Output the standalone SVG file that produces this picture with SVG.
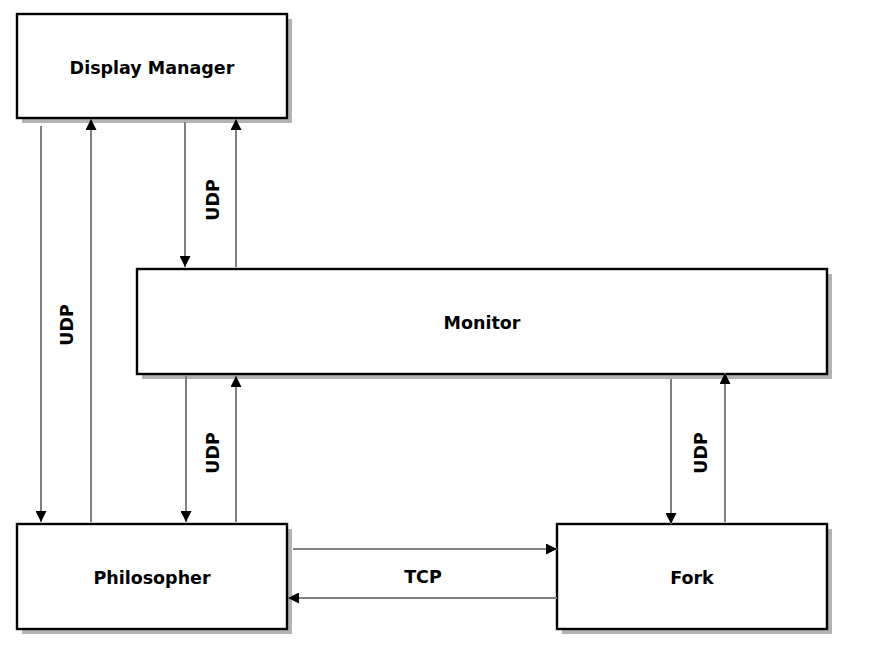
<svg xmlns="http://www.w3.org/2000/svg" width="871" height="658" viewBox="0 0 871 658">
<style>
.box{fill:#fff;stroke:#000;stroke-width:2.4}
.sh{fill:#b3b3b3}
.t{font-family:"DejaVu Sans",Verdana,sans-serif;font-weight:bold;font-size:17.5px;fill:#000;text-anchor:middle;dominant-baseline:central}
.e{stroke:#808080;stroke-width:2;fill:none}
</style>
<defs>
<marker id="ah" viewBox="0 0 11 11" refX="11" refY="5.5" markerWidth="11" markerHeight="11" markerUnits="userSpaceOnUse" orient="auto">
<path d="M0,0 L11,5.5 L0,11 Z" fill="#000"/>
</marker>
</defs>
<rect width="871" height="658" fill="#fff"/>
<g id="display-manager">
<rect class="sh" x="22" y="19" width="270" height="104"/>
<rect class="box" x="17" y="14" width="270" height="104"/>
<text class="t" x="152" y="68">Display Manager</text>
</g>
<g id="monitor">
<rect class="sh" x="142" y="274" width="690" height="105"/>
<rect class="box" x="137" y="269" width="690" height="105"/>
<text class="t" x="482" y="323">Monitor</text>
</g>
<g id="philosopher">
<rect class="sh" x="22" y="529" width="270" height="105"/>
<rect class="box" x="17" y="524" width="270" height="105"/>
<text class="t" x="152" y="578">Philosopher</text>
</g>
<g id="fork">
<rect class="sh" x="562" y="529" width="270" height="105"/>
<rect class="box" x="557" y="524" width="270" height="105"/>
<text class="t" x="692" y="578">Fork</text>
</g>
<g id="connectors">
<line class="e" x1="41" y1="126" x2="41" y2="522" marker-end="url(#ah)"/>
<line class="e" x1="91" y1="522" x2="91" y2="119" marker-end="url(#ah)"/>
<line class="e" x1="185" y1="122" x2="185" y2="267" marker-end="url(#ah)"/>
<line class="e" x1="236" y1="267" x2="236" y2="119" marker-end="url(#ah)"/>
<line class="e" x1="186" y1="376" x2="186" y2="522" marker-end="url(#ah)"/>
<line class="e" x1="236" y1="522" x2="236" y2="376" marker-end="url(#ah)"/>
<line class="e" x1="671" y1="379" x2="671" y2="524" marker-end="url(#ah)"/>
<line class="e" x1="725" y1="522" x2="725" y2="373" marker-end="url(#ah)"/>
<line class="e" x1="293" y1="549" x2="557" y2="549" marker-end="url(#ah)"/>
<line class="e" x1="557" y1="598" x2="288" y2="598" marker-end="url(#ah)"/>
<text class="t" transform="translate(67,325) rotate(-90)">UDP</text>
<text class="t" transform="translate(213,200) rotate(-90)">UDP</text>
<text class="t" transform="translate(213,453) rotate(-90)">UDP</text>
<text class="t" transform="translate(701,453) rotate(-90)">UDP</text>
<text class="t" x="423" y="577">TCP</text>
</g>
</svg>
